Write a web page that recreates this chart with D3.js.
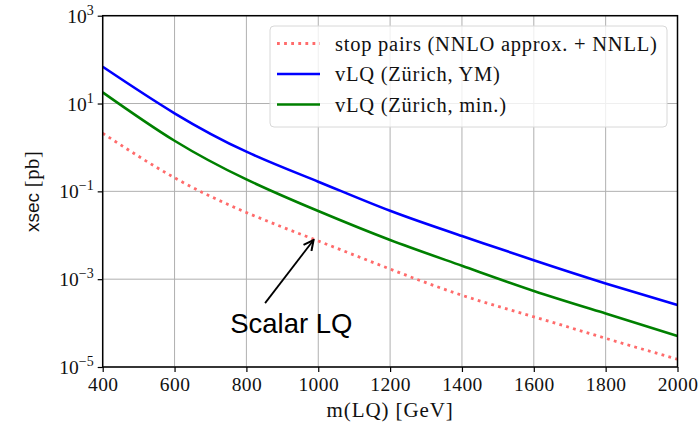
<!DOCTYPE html>
<html>
<head>
<meta charset="utf-8">
<script src="https://cdn.jsdelivr.net/npm/d3@7"></script>
<style>
  body { margin: 0; background: #fff; }
  svg { display: block; }
</style>
</head>
<body>
<div id="chart"></div>
<script>
// masses in GeV
const mass = [400, 600, 800, 1000, 1200, 1400, 1600, 1800, 2000];
// cross sections in pb
const stopPairs = [2.1, 0.204, 0.033, 0.0074, 0.0017, 4.3e-4, 1.39e-4, 4.5e-5, 1.5e-5];
const vlqYM = [68.9, 6.0, 0.80, 0.166, 0.036, 0.0096, 0.0027, 8.0e-4, 2.57e-4];
const vlqMin = [18, 1.42, 0.187, 0.0356, 0.0078, 0.00202, 5.4e-4, 1.66e-4, 5.1e-5];

const xTicks = [400, 600, 800, 1000, 1200, 1400, 1600, 1800, 2000];
const yTickExp = [3, 1, -1, -3, -5];

const SERIES = [
  { label: 'stop pairs (NNLO approx. + NNLL)', values: stopPairs, color: '#ff6b6b', dash: '2.8 4.3', width: 2.8 },
  { label: 'vLQ (Zürich, YM)', values: vlqYM, color: '#0000ff', dash: null, width: 2.6 },
  { label: 'vLQ (Zürich, min.)', values: vlqMin, color: '#008000', dash: null, width: 2.6 }
];

// annotation: arrow from the text up to the stop-pair curve
const annot = { text: 'Scalar LQ', textM: 755, textX: 6e-5, tipM: 987, tipX: 0.0078, tailM: 852, tailX: 2.85e-4 };

const W = 700, H = 429;
const margin = { top: 15.7, right: 22.5, bottom: 62, left: 102.7 };
const width = W - margin.left - margin.right;
const height = H - margin.top - margin.bottom;
const serif = '"Liberation Serif", "DejaVu Serif", serif';
const sans = '"Liberation Sans", Arial, sans-serif';

const svg = d3.select('#chart').append('svg')
  .attr('width', W).attr('height', H);

const g = svg.append('g')
  .attr('transform', `translate(${margin.left},${margin.top})`);

const x = d3.scaleLinear().domain([400, 2000]).range([0, width]);
const y = d3.scaleLog().domain([1e-5, 1e3]).range([height, 0]);

// ── Grid ────────────────────────────────────────────
g.append('g').selectAll('line').data(xTicks).join('line')
  .attr('x1', d => x(d)).attr('x2', d => x(d))
  .attr('y1', 0).attr('y2', height)
  .attr('stroke', '#b0b0b0').attr('stroke-width', 1);

g.append('g').selectAll('line').data(yTickExp).join('line')
  .attr('x1', 0).attr('x2', width)
  .attr('y1', d => y(Math.pow(10, d))).attr('y2', d => y(Math.pow(10, d)))
  .attr('stroke', '#b0b0b0').attr('stroke-width', 1);

// ── Curves ──────────────────────────────────────────
const line = d3.line()
  .x(d => x(d[0]))
  .y(d => y(d[1]))
  .curve(d3.curveNatural);

SERIES.forEach(s => {
  g.append('path')
    .datum(mass.map((m, i) => [m, s.values[i]]))
    .attr('fill', 'none')
    .attr('stroke', s.color)
    .attr('stroke-width', s.width)
    .attr('stroke-dasharray', s.dash)
    .attr('d', line);
});

// ── Axes ────────────────────────────────────────────
const xAxis = g.append('g')
  .attr('transform', `translate(0,${height})`)
  .call(d3.axisBottom(x).tickValues(xTicks).tickSize(5).tickPadding(5).tickFormat(d3.format('d')));
xAxis.select('.domain').remove();
xAxis.selectAll('line').attr('stroke', '#000').attr('stroke-width', 1.2);
xAxis.selectAll('text').attr('font-family', serif).attr('font-size', '19.5px')
  .attr('letter-spacing', '0.4px').attr('fill', '#111');

const yAxis = g.append('g')
  .call(d3.axisLeft(y).tickValues(yTickExp.map(e => Math.pow(10, e))).tickSize(5).tickFormat(''));
yAxis.select('.domain').remove();
yAxis.selectAll('line').attr('stroke', '#000').attr('stroke-width', 1.2);

const yLab = g.append('g').selectAll('text').data(yTickExp).join('text')
  .attr('x', -9).attr('y', d => y(Math.pow(10, d)) + 7)
  .attr('text-anchor', 'end')
  .attr('font-family', serif).attr('fill', '#111');
yLab.append('tspan').attr('font-size', '19.5px').text('10');
yLab.append('tspan').attr('font-size', '14px').attr('dy', -8)
  .text(d => String(d).replace('-', '\u2212'));

// frame
g.append('rect')
  .attr('width', width).attr('height', height)
  .attr('fill', 'none').attr('stroke', '#000').attr('stroke-width', 1.5);

// axis titles
g.append('text')
  .attr('x', width / 2).attr('y', height + 50)
  .attr('text-anchor', 'middle')
  .attr('font-family', serif).attr('font-size', '21px')
  .attr('letter-spacing', '0.9px').attr('fill', '#111')
  .text('m(LQ) [GeV]');

const yTitle = g.append('text')
  .attr('transform', `translate(-64,${height / 2}) rotate(-90)`)
  .attr('text-anchor', 'middle')
  .attr('font-size', '20.5px').attr('fill', '#111');
yTitle.append('tspan').attr('font-family', sans).attr('font-size', '19px').text('xsec');
yTitle.append('tspan').attr('font-family', serif).attr('letter-spacing', '0.6px').text(' [pb]');

// ── Annotation ─────────────────────────────────────
svg.append('defs').append('marker')
  .attr('id', 'arr').attr('viewBox', '0 0 12 12')
  .attr('refX', 11).attr('refY', 6)
  .attr('markerWidth', 12).attr('markerHeight', 12)
  .attr('markerUnits', 'userSpaceOnUse')
  .attr('orient', 'auto')
  .append('path')
  .attr('d', 'M1,1 L11,6 L1,11')
  .attr('fill', 'none').attr('stroke', '#000').attr('stroke-width', 2);

g.append('line')
  .attr('x1', x(annot.tailM)).attr('y1', y(annot.tailX))
  .attr('x2', x(annot.tipM)).attr('y2', y(annot.tipX))
  .attr('stroke', '#000').attr('stroke-width', 1.8)
  .attr('marker-end', 'url(#arr)');

g.append('text')
  .attr('x', x(annot.textM)).attr('y', y(annot.textX))
  .attr('font-family', sans).attr('font-size', '27.5px').attr('fill', '#000')
  .text(annot.text);

// ── Legend ─────────────────────────────────────────
const legend = svg.append('g').attr('transform', 'translate(270,26)');
legend.append('rect')
  .attr('width', 397).attr('height', 101).attr('rx', 4)
  .attr('fill', '#fff').attr('fill-opacity', 0.8)
  .attr('stroke', '#d8d8d8').attr('stroke-width', 1);

SERIES.forEach((s, i) => {
  const cy = 17.5 + i * 30.5;
  legend.append('line')
    .attr('x1', 7).attr('x2', 50).attr('y1', cy).attr('y2', cy)
    .attr('stroke', s.color).attr('stroke-width', s.width)
    .attr('stroke-dasharray', s.dash);
  legend.append('text')
    .attr('x', 65).attr('y', cy + 7)
    .attr('font-family', serif).attr('font-size', '20.5px')
    .attr('letter-spacing', '0.75px').attr('fill', '#111')
    .text(s.label);
});
</script>
</body>
</html>
